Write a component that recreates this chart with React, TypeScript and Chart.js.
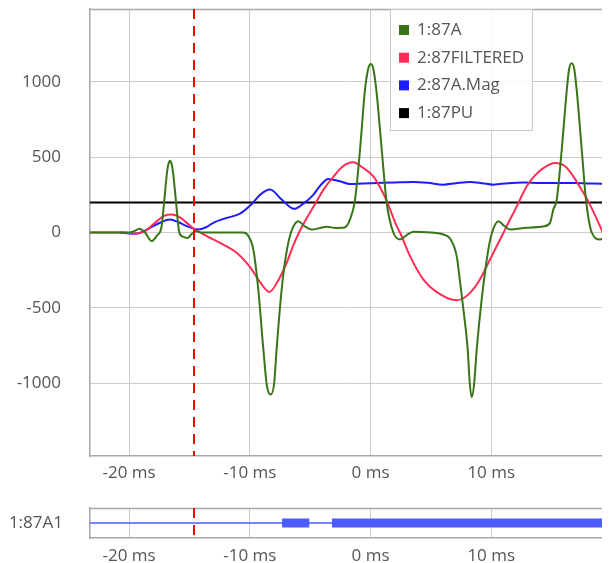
import React, { useEffect, useRef } from "react";
import { Chart, registerables } from "chart.js";

Chart.register(...registerables);

// ---------- data ----------
const X_MIN = -23.24;
const X_MAX = 19.84;
const X_TICKS = [-20, -10, 0, 10];
const Y_MIN = -1485;
const Y_MAX = 1485;
const Y_TICKS = [-1000, -500, 0, 500, 1000];
const CURSOR_MS = -14.62;

const SERIES_NAMES = ["1:87A", "2:87FILTERED", "2:87A.Mag", "1:87PU"];
const SERIES_COLORS = ["#387518", "#ff2d55", "#1c1cff", "#000000"];

// 1:87A
const A_T = [-23.3, -21.0, -20.0, -19.6, -19.14, -18.68, -18.13, -17.69, -17.31, -17.1, -16.86, -16.74, -16.61, -16.48, -16.36, -16.11, -15.84, -15.54, -15.16, -14.83, -14.46, -13.96, -12.0, -10.56, -10.15, -9.71, -9.3, -8.88, -8.58, -8.27, -7.98, -7.78, -7.36, -7.0, -6.59, -5.98, -5.51, -4.87, -4.18, -3.63, -2.86, -2.25, -1.7, -1.28, -0.87, -0.46, -0.2, 0.02, 0.25, 0.51, 0.93, 1.34, 1.89, 2.44, 2.94, 3.55, 4.66, 6.03, 6.59, 7.14, 7.42, 7.71, 8.05, 8.22, 8.38, 8.58, 8.8, 9.21, 9.76, 10.07, 10.59, 11.06, 11.56, 12.94, 14.32, 14.87, 15.14, 15.43, 15.84, 16.26, 16.45, 16.67, 16.88, 17.08, 17.5, 17.85, 18.33, 19.01, 19.84, 20.3];
const A_V = [0, 0, 0, 8, 25, 0, -57, -20, 40, 200, 400, 455, 477, 455, 400, 200, 0, -28, -37, -10, 8, 0, 0, 0, -20, -113, -377, -775, -1020, -1077, -1000, -775, -377, -150, 0, 75, 45, 20, 30, 38, 30, 31, 86, 219, 550, 947, 1085, 1119, 1080, 925, 550, 197, 0, -46, -20, 5, 2, -13, -40, -157, -331, -520, -775, -1000, -1095, -1010, -775, -444, -113, 0, 75, 45, 20, 31, 40, 64, 152, 219, 550, 947, 1085, 1124, 1085, 947, 550, 219, 0, -46, 2, 15];

// 2:87FILTERED
const F_T = [-23.3, -20.75, -20.0, -19.37, -18.68, -17.71, -17.11, -16.47, -15.78, -15.22, -14.54, -13.57, -12.2, -11.09, -9.98, -9.15, -8.38, -7.66, -6.94, -6.42, -5.92, -5.18, -4.52, -3.77, -3.08, -2.28, -1.42, -0.62, 0.23, 0.79, 1.34, 2.17, 2.44, 3.27, 4.37, 5.76, 7.14, 7.83, 8.52, 9.21, 9.9, 10.56, 11.0, 11.28, 11.97, 12.94, 13.63, 14.32, 15.29, 16.12, 16.8, 17.36, 18.05, 19.01, 19.84, 20.3];
const F_V = [0, 0, -3, -7, 10, 75, 110, 119, 100, 64, 20, -24, -80, -134, -230, -330, -395, -320, -201, -90, 0, 110, 200, 300, 370, 440, 466, 430, 373, 300, 210, 42, 0, -157, -311, -410, -450, -430, -377, -290, -179, -75, -5, 42, 150, 307, 380, 428, 461, 440, 373, 300, 205, 42, -113, -190];

// 2:87A.Mag
const M_T = [-20.75, -19.65, -19.01, -18.27, -17.44, -16.61, -15.95, -15.23, -14.62, -14.27, -13.63, -13.02, -11.91, -10.81, -9.84, -9.15, -8.33, -7.36, -6.34, -5.59, -4.74, -4.18, -3.5, -2.53, -1.7, -0.62, 0.51, 2.03, 3.55, 4.76, 6.03, 7.08, 8.24, 9.24, 10.17, 11.39, 12.66, 14.04, 15.43, 16.78, 18.19, 19.84, 20.3];
const M_V = [0, -9, 0, 31, 65, 86, 70, 42, 25, 20, 35, 64, 97, 125, 190, 250, 285, 219, 157, 190, 250, 310, 356, 340, 322, 326, 329, 333, 336, 330, 318, 328, 336, 328, 318, 328, 333, 329, 329, 329, 326, 324, 324];

// 1:87PU
const P_T = [-23.3, 20.3];
const P_V = [200, 200];

// digital channel
const DIG_NAME = "1:87A1";
const DIG_COLOR = "#4b5bff";
const DIG_ON_START = [-7.33, -3.19];
const DIG_ON_END = [-5.07, 20.3];

// ---------- helpers ----------
const FONT_FAMILY = "'Open Sans', sans-serif";
const TICK_FONT = { family: FONT_FAMILY, size: 17 };
const TEXT_COLOR = "#555555";
const GRID_COLOR = "#cccccc";
const BORDER_COLOR = "#a8a8a8";

const toPoints = (t: number[], v: number[]) => t.map((x, i) => ({ x, y: v[i] }));

const frameAndCursor = {
  id: "frameAndCursor",
  afterDatasetsDraw(chart: any) {
    const { ctx, chartArea: a, scales } = chart;
    ctx.save();
    ctx.strokeStyle = BORDER_COLOR;
    ctx.lineWidth = 1.5;
    ctx.beginPath();
    ctx.moveTo(a.left, a.top + 0.5);
    ctx.lineTo(a.right, a.top + 0.5);
    ctx.stroke();
    const x = Math.round(scales.x.getPixelForValue(CURSOR_MS));
    ctx.strokeStyle = "#ff0000";
    ctx.lineWidth = 2;
    ctx.setLineDash([10, 7]);
    ctx.beginPath();
    ctx.moveTo(x, a.top);
    ctx.lineTo(x, a.bottom);
    ctx.stroke();
    ctx.restore();
  },
};

const boxLegend = {
  id: "boxLegend",
  afterDraw(chart: any) {
    const { ctx, chartArea: a } = chart;
    const ds = chart.data.datasets;
    const x = 382.5;
    const y = a.top + 0.5;
    const w = 142;
    const h = 121;
    ctx.save();
    ctx.fillStyle = "rgba(255,255,255,0.82)";
    ctx.fillRect(x, y, w, h);
    ctx.strokeStyle = "#c8c8c8";
    ctx.lineWidth = 1;
    ctx.strokeRect(x, y, w, h);
    ctx.font = `17px ${FONT_FAMILY}`;
    ctx.textBaseline = "middle";
    ctx.textAlign = "left";
    ds.forEach((d: any, i: number) => {
      const cy = a.top + 21 + i * 27.7;
      ctx.fillStyle = d.borderColor;
      ctx.fillRect(x + 8.5, cy - 5, 10, 10);
      ctx.fillStyle = TEXT_COLOR;
      ctx.fillText(d.label, x + 26.5, cy);
    });
    ctx.restore();
  },
};

const noPad = (s: any) => {
  s.paddingTop = 0;
  s.paddingBottom = 0;
  s.paddingLeft = 0;
  s.paddingRight = 0;
};

const xScale = (height: number, pad: number) => ({
  type: "linear",
  min: X_MIN,
  max: X_MAX,
  afterBuildTicks: (s: any) => {
    s.ticks = X_TICKS.map((v) => ({ value: v }));
  },
  afterFit: (s: any) => {
    s.height = height;
    noPad(s);
  },
  ticks: {
    callback: (v: any) => `${v} ms`,
    font: TICK_FONT,
    color: TEXT_COLOR,
    padding: pad,
    maxRotation: 0,
    autoSkip: false,
  },
  grid: { color: GRID_COLOR, drawTicks: false, lineWidth: 1 },
  border: { color: BORDER_COLOR, width: 1.5 },
});

export default function App() {
  const mainRef = useRef<HTMLCanvasElement>(null);
  const digRef = useRef<HTMLCanvasElement>(null);

  useEffect(() => {
    document.documentElement.style.overflow = "hidden";
    const main = new Chart(mainRef.current as HTMLCanvasElement, {
      type: "line",
      data: {
        datasets: [
          { label: SERIES_NAMES[0], data: toPoints(A_T, A_V), borderColor: SERIES_COLORS[0] },
          { label: SERIES_NAMES[1], data: toPoints(F_T, F_V), borderColor: SERIES_COLORS[1] },
          { label: SERIES_NAMES[2], data: toPoints(M_T, M_V), borderColor: SERIES_COLORS[2] },
          { label: SERIES_NAMES[3], data: toPoints(P_T, P_V), borderColor: SERIES_COLORS[3] },
        ].map((d) => ({
          ...d,
          borderWidth: 2,
          pointRadius: 0,
          fill: false,
          cubicInterpolationMode: "monotone" as const,
        })),
      },
      options: {
        animation: false,
        responsive: false,
        layout: { padding: { top: 1, left: 0, right: 0, bottom: 0 } },
        plugins: { legend: { display: false }, tooltip: { enabled: false } },
        scales: {
          x: xScale(30, 7) as any,
          y: {
            min: Y_MIN,
            max: Y_MAX,
            afterBuildTicks: (s: any) => {
              s.ticks = Y_TICKS.map((v) => ({ value: v }));
            },
            afterFit: (s: any) => {
              s.width = 82;
              noPad(s);
            },
            ticks: {
              callback: (v: any) => String(v),
              font: TICK_FONT,
              color: TEXT_COLOR,
              padding: 29,
            },
            grid: { color: GRID_COLOR, drawTicks: false, lineWidth: 1 },
            border: { color: BORDER_COLOR, width: 1.5 },
          },
        },
      },
      plugins: [frameAndCursor, boxLegend],
    });

    const onData: any[] = [];
    DIG_ON_START.forEach((s, i) => {
      onData.push({ x: s, y: 0.5 });
      onData.push({ x: DIG_ON_END[i], y: 0.5 });
      onData.push({ x: DIG_ON_END[i] + 0.01, y: null });
    });

    const dig = new Chart(digRef.current as HTMLCanvasElement, {
      type: "line",
      data: {
        datasets: [
          {
            label: DIG_NAME,
            data: onData,
            borderColor: DIG_COLOR,
            borderWidth: 9,
            borderCapStyle: "butt",
            pointRadius: 0,
            spanGaps: false,
          },
          {
            label: DIG_NAME + " base",
            data: [
              { x: -23.3, y: 0.5 },
              { x: 20.3, y: 0.5 },
            ],
            borderColor: DIG_COLOR,
            borderWidth: 1.5,
            pointRadius: 0,
          },
        ],
      },
      options: {
        animation: false,
        responsive: false,
        layout: { padding: { top: 22, left: 0, right: 0, bottom: 0 } },
        plugins: { legend: { display: false }, tooltip: { enabled: false } },
        scales: {
          x: xScale(25, 8) as any,
          y: {
            min: 0,
            max: 1,
            afterBuildTicks: (s: any) => {
              s.ticks = [{ value: 0.5 }];
            },
            afterFit: (s: any) => {
              s.width = 82;
              noPad(s);
            },
            ticks: {
              callback: () => DIG_NAME,
              font: TICK_FONT,
              color: TEXT_COLOR,
              padding: 27,
            },
            grid: { display: false, drawTicks: false },
            border: { color: BORDER_COLOR, width: 1.5 },
          },
        },
      },
      plugins: [frameAndCursor],
    });

    return () => {
      main.destroy();
      dig.destroy();
    };
  }, []);

  return (
    <div style={{ width: 602 }}>
      <canvas ref={mainRef} width={602} height={478} style={{ display: "block" }} />
      <canvas ref={digRef} width={602} height={77} style={{ display: "block" }} />
    </div>
  );
}
